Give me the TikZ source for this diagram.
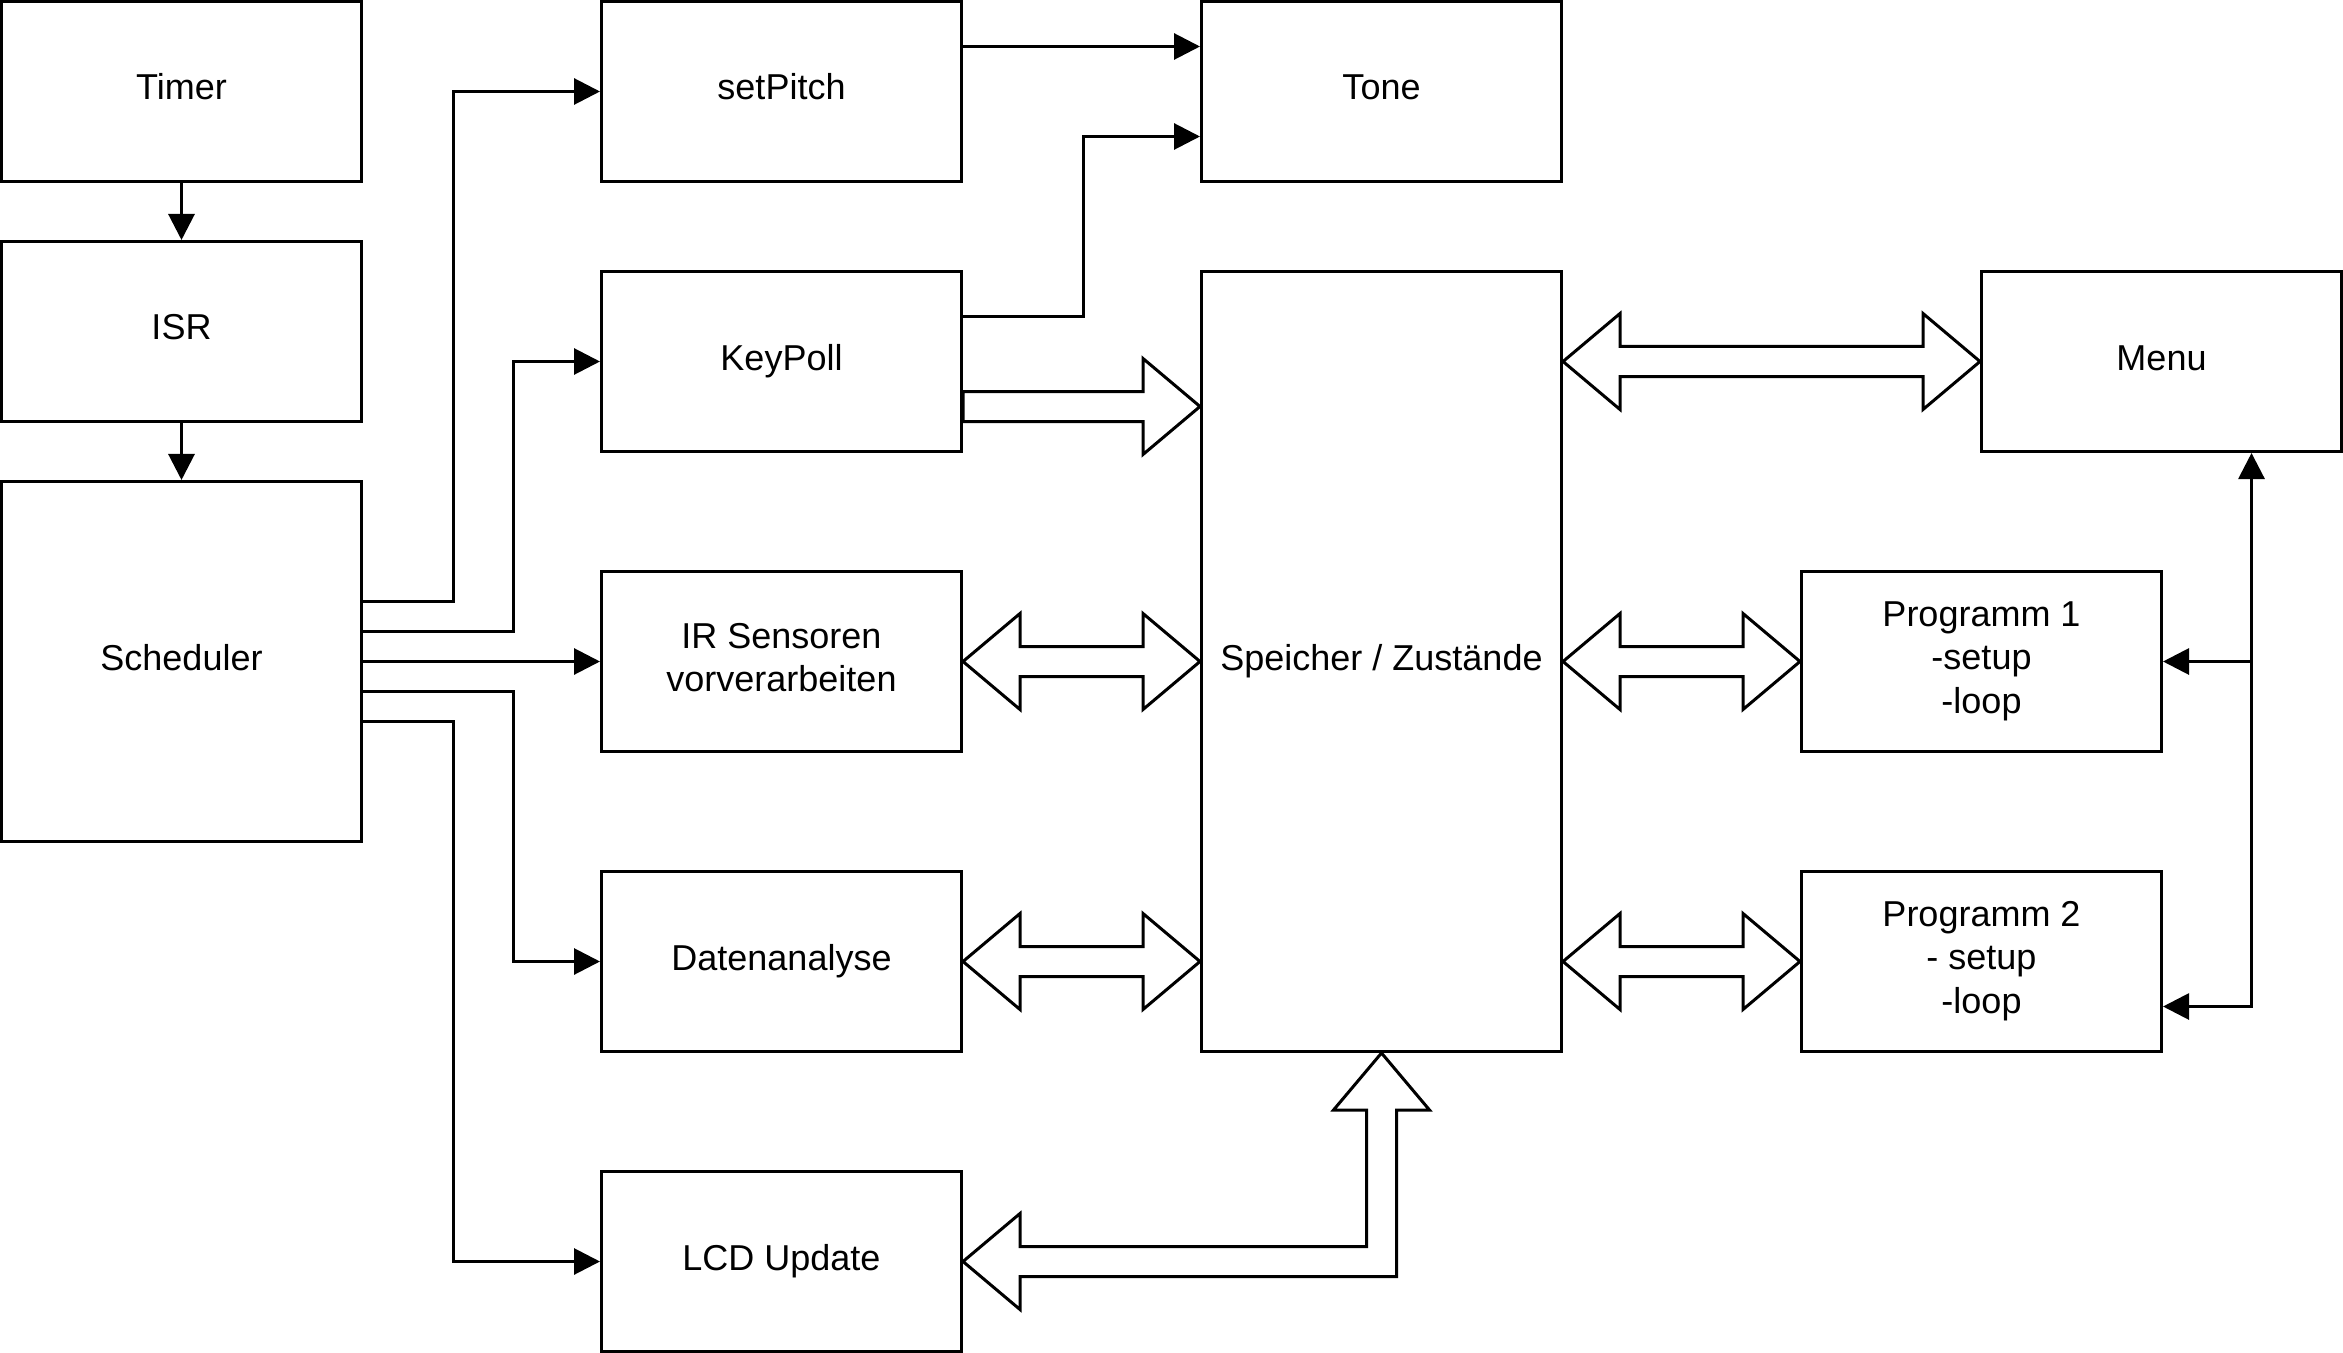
\documentclass[tikz,border=0pt]{standalone}
\usepackage{fontspec}
\setmainfont{Liberation Sans}
\usetikzlibrary{arrows.meta,calc}
\newcommand{\lblfont}{\fontsize{10.8pt}{12.96pt}\selectfont}
% block arrows: head length 17.1pt, head half width 14.4pt, shaft half width 4.5pt
\newcommand{\dblarrow}[2]{%
  \draw[blk] let \p1=#1, \p2=#2 in
    (\x1,\y1) -- (\x1+17.1pt,\y1+14.4pt) -- (\x1+17.1pt,\y1+4.5pt)
    -- (\x2-17.1pt,\y1+4.5pt) -- (\x2-17.1pt,\y1+14.4pt) -- (\x2,\y1)
    -- (\x2-17.1pt,\y1-14.4pt) -- (\x2-17.1pt,\y1-4.5pt)
    -- (\x1+17.1pt,\y1-4.5pt) -- (\x1+17.1pt,\y1-14.4pt) -- cycle;}
\newcommand{\sglarrow}[2]{%
  \draw[blk] let \p1=#1, \p2=#2 in
    (\x1,\y1+4.5pt) -- (\x2-17.1pt,\y1+4.5pt) -- (\x2-17.1pt,\y1+14.4pt) -- (\x2,\y1)
    -- (\x2-17.1pt,\y1-14.4pt) -- (\x2-17.1pt,\y1-4.5pt) -- (\x1,\y1-4.5pt) -- cycle;}
\tikzset{
  box/.style={draw, line width=0.9pt, rectangle, minimum width=108pt, minimum height=54pt,
    inner sep=0pt, align=center, font=\lblfont, text height=8.1pt, text depth=3pt},
  boxtwo/.style={box, text height=21pt},
  boxthree/.style={box, text height=33.9pt},
  tri/.tip={Triangle[length=7.8pt,width=7.8pt]},
  conn/.style={line width=0.9pt, -tri},
  blk/.style={draw, fill=white, line width=0.9pt, miter limit=10},
}
\begin{document}
\begin{tikzpicture}[x=0.9pt, y=-0.9pt]
\fill[white] (-0.5,-0.5) rectangle (780.5,450.5);
\useasboundingbox (-0.5,-0.5) rectangle (780.5,450.5);

% nodes
\node[box] (timer) at (60,30) {Timer};
\node[box] (isr) at (60,110) {ISR};
\node[box, minimum height=108pt] (sched) at (60,220) {Scheduler};
\node[box] (setpitch) at (260,30) {setPitch};
\node[box] (keypoll) at (260,120) {KeyPoll};
\node[boxtwo] (ir) at (260,220) {IR Sensoren\\vorverarbeiten};
\node[box] (daten) at (260,320) {Datenanalyse};
\node[box] (lcd) at (260,420) {LCD Update};
\node[box] (tone) at (460,30) {Tone};
\node[box, minimum height=234pt] (speicher) at (460,220) {Speicher / Zustände};
\node[box] (menu) at (720,120) {Menu};
\node[boxthree] (p1) at (660,220) {Programm 1\\-setup\\-loop};
\node[boxthree] (p2) at (660,320) {Programm 2\\- setup\\-loop};

% simple connectors
\draw[conn] (timer) -- (isr);
\draw[conn] (isr) -- (sched);
\draw[conn] ([yshift=18pt]sched.east) -- ++(27pt,0) |- (setpitch.west);
\draw[conn] ([yshift=9pt]sched.east) -- ++(45pt,0) |- (keypoll.west);
\draw[conn] (sched.east) -- (ir.west);
\draw[conn] ([yshift=-9pt]sched.east) -- ++(45pt,0) |- (daten.west);
\draw[conn] ([yshift=-18pt]sched.east) -- ++(27pt,0) |- (lcd.west);
\draw[conn] ([yshift=13.5pt]setpitch.east) -- ([yshift=13.5pt]tone.west);
\draw[conn] ([yshift=13.5pt]keypoll.east) -- ++(36pt,0) |- ([yshift=-13.5pt]tone.west);
\coordinate (junc) at (750,220);
\draw[line width=0.9pt, tri-tri] ([yshift=-13.5pt]p2.east) -| ([xshift=27pt]menu.south);
\draw[conn] (junc) -- (p1.east);

% block arrows
\coordinate (kpa) at ([yshift=-13.5pt]keypoll.east);
\sglarrow{(kpa)}{(speicher.west |- kpa)}
\dblarrow{(ir.east)}{(speicher.west |- ir.east)}
\dblarrow{(daten.east)}{(speicher.west |- daten.east)}
\dblarrow{(speicher.east |- menu.west)}{(menu.west)}
\dblarrow{(speicher.east |- p1.west)}{(p1.west)}
\dblarrow{(speicher.east |- p2.west)}{(p2.west)}
\draw[blk] let \p1=(lcd.east), \p2=(speicher.south) in
  (\x1,\y1) -- (\x1+17.1pt,\y1+14.4pt) -- (\x1+17.1pt,\y1+4.5pt)
  -- (\x2-4.5pt,\y1+4.5pt) -- (\x2-4.5pt,\y2-17.1pt) -- (\x2-14.4pt,\y2-17.1pt)
  -- (\x2,\y2) -- (\x2+14.4pt,\y2-17.1pt) -- (\x2+4.5pt,\y2-17.1pt)
  -- (\x2+4.5pt,\y1-4.5pt) -- (\x1+17.1pt,\y1-4.5pt) -- (\x1+17.1pt,\y1-14.4pt) -- cycle;
\end{tikzpicture}
\end{document}
